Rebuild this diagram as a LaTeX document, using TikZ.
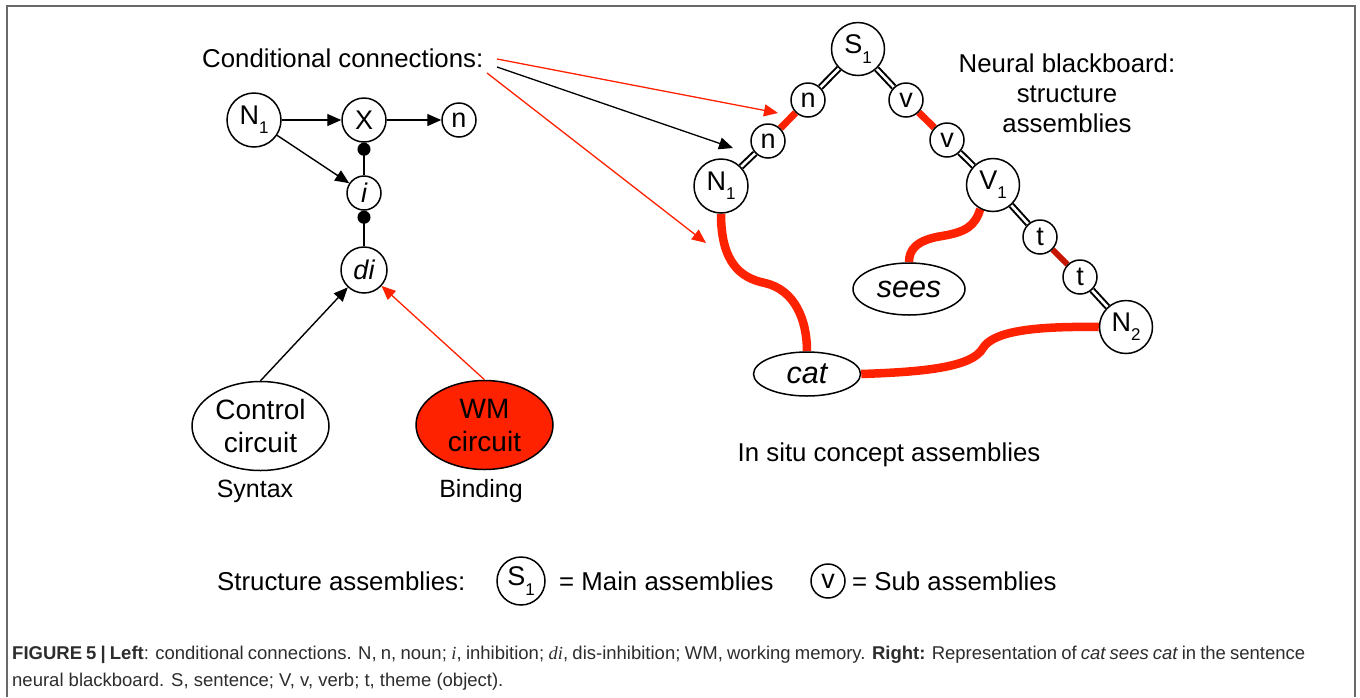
\documentclass[tikz,border=0pt]{standalone}
\usepackage{fontspec}
\setmainfont{Liberation Sans}
\newfontfamily\capfont{Liberation Sans}
\newfontfamily\capserif{Liberation Serif}
\usetikzlibrary{arrows.meta,shapes.geometric}

\definecolor{hotred}{RGB}{255,34,0}
\definecolor{deepred}{RGB}{198,22,0}
\definecolor{framegray}{RGB}{105,105,105}
\definecolor{captext}{RGB}{45,45,45}

\newcommand\lowsub[1]{\raisebox{-0.34em}{\fontsize{17}{17}\selectfont #1}}

\pgfdeclarelayer{links}
\pgfsetlayers{links,main}

\tikzset{
  lbl/.style={font=\fontsize{25.8}{30}\selectfont, inner sep=0pt},
  asm/.style={circle, draw, line width=1.5pt, fill=white, inner sep=0pt,
              font=\fontsize{27}{30}\selectfont},
  mainasm/.style={asm, minimum size=53pt},
  subasm/.style={asm, minimum size=34pt},
  concept/.style={ellipse, draw, line width=1.5pt, fill=white, inner sep=0pt,
                  font=\fontsize{30.5}{33}\selectfont\itshape},
  circuit/.style={ellipse, draw, line width=1.5pt, inner sep=0pt,
                  minimum width=137pt, minimum height=89pt, align=center,
                  font=\fontsize{28}{33}\selectfont},
  conn/.style={line width=1.4pt, -{Triangle[length=14pt,width=12pt]}},
  redconn/.style={conn, draw=hotred, line width=1.3pt},
  inh/.style={line width=1.4pt, -{Circle[length=13pt]}},
  bond/.style={double, line width=2pt, double distance=2.6pt},
  link/.style={hotred, line width=7pt},
  tie/.style={hotred, line width=8.5pt},
  capline/.style={font=\capfont\fontsize{18.5}{22}\selectfont, text=captext,
                  inner sep=0pt, anchor=base west},
}

\begin{document}
\begin{tikzpicture}[x=1pt, y=-1pt]
\useasboundingbox (0,0) rectangle (1360,697);
\begin{pgfonlayer}{links}
  \fill[white] (0,0) rectangle (1360,697);
\end{pgfonlayer}

% frame, open at the bottom
\draw[framegray, line width=1.5pt] (7,697) -- (7,6) -- (1355,6) -- (1355,697);

% ---------- left: conditional connection ----------
\node[lbl, anchor=base west] (cc) at (202,67) {Conditional connections:};
\node[asm, minimum size=54pt] (N1L) at (254,120) {N\lowsub{1}};
\node[asm, minimum size=44pt] (XL) at (364,120) {X};
\node[subasm] (nL) at (459,120) {n};
\node[subasm] (iL) at (364,193) {\itshape i};
\node[asm, minimum size=46pt] (diL) at (364,270) {\itshape di};
\node[circuit] (ctrl) at (260.5,426) {Control\\circuit};
\node[circuit, fill=hotred] (wm) at (484.5,425) {WM\\circuit};
\node[font=\fontsize{25}{30}\selectfont, inner sep=0pt, anchor=base] (syn) at (255,497) {Syntax};
\node[font=\fontsize{25}{30}\selectfont, inner sep=0pt, anchor=base] (bind) at (481,497) {Binding};

\draw[conn] (N1L) -- (XL);
\draw[conn] (XL) -- (nL);
\draw[conn] (N1L) -- (iL);
\draw[inh] (iL) -- (XL);
\draw[inh] (diL) -- (iL);
\draw[conn] (ctrl.north) -- (diL);
\draw[redconn] (wm.north) -- (diL);

% ---------- right: neural blackboard ----------
\node[mainasm] (S1) at (858,49) {S\lowsub{1}};
\node[subasm] (nU) at (808,100) {n};
\node[subasm] (nD) at (768,141) {n};
\node[asm, minimum size=54pt] (N1R) at (721,186) {N\lowsub{1}};
\node[subasm] (vU) at (906,100) {v};
\node[subasm] (vD) at (947,140) {v};
\node[mainasm] (V1) at (993,185) {V\lowsub{1}};
\node[subasm] (t1) at (1040,237) {t};
\node[subasm] (t2) at (1080,277) {t};
\node[mainasm] (N2) at (1126,327) {N\lowsub{2}};
\node[concept, minimum width=112pt, minimum height=52pt] (sees) at (909,289) {sees};
\node[concept, minimum width=107pt, minimum height=44pt] (cat) at (807,374) {cat};

\node[lbl, anchor=base] (nb1) at (1067,72) {Neural blackboard:};
\node[lbl, anchor=base] (nb2) at (1067,102) {structure};
\node[lbl, anchor=base] (nb3) at (1067,132) {assemblies};
\node[lbl, anchor=base] (insitu) at (889,461) {In situ concept assemblies};

\begin{pgfonlayer}{links}
  \draw[bond] (S1) -- (nU);
  \draw[bond] (nD) -- (N1R);
  \draw[bond] (S1) -- (vU);
  \draw[bond] (vD) -- (V1);
  \draw[bond] (V1) -- (t1);
  \draw[bond] (t2) -- (N2);
  \draw[link] (nU) -- (nD);
  \draw[link] (vU) -- (vD);
  \draw[link, deepred, line width=6pt] (t1) -- (t2);
  % bindings to the concept assemblies
  \draw[tie] (N1R.south) .. controls (721,262) and (740,278) .. (765,283)
                         .. controls (795,290) and (807,320) .. (cat.north);
  \draw[tie] (V1.-118) .. controls (975,226) and (966,232) .. (942,236)
                       .. controls (916,240) and (909,250) .. (sees.north);
  \draw[tie] (cat.east) .. controls (920,372) and (972,368) .. (983,348)
                        .. controls (993,332) and (1030,326) .. (N2.west);
\end{pgfonlayer}

% conditional connection pointers
\coordinate (ccA) at (497,59);
\coordinate (ccB) at (497,67);
\coordinate (ccC) at (487,73);
\coordinate (tipA) at (778,113);
\coordinate (tipB) at (733,148);
\coordinate (tipC) at (706,243);
\draw[redconn] (ccA) -- (tipA);
\draw[conn, line width=1.3pt] (ccB) -- (tipB);
\draw[redconn] (ccC) -- (tipC);

% ---------- legend ----------
\node[lbl, anchor=base west] (legtxt) at (217,590) {Structure assemblies:};
\node[asm, minimum size=48pt] (legS) at (521,581) {S\lowsub{1}};
\node[lbl, anchor=base west] (legmain) at (559,590) {= Main assemblies};
\node[subasm] (legv) at (828,581) {v};
\node[lbl, anchor=base west] (legsub) at (852,590) {= Sub assemblies};

% ---------- caption ----------
\node[capline] (cap1) at (12,659) {\makebox[1293pt][s]{{\bfseries FIGURE 5 | Left}: conditional connections. N, n, noun; {\capserif\itshape i}, inhibition; {\capserif\itshape di}, dis-inhibition; WM, working memory. {\bfseries Right:} Representation of {\itshape cat sees cat} in the sentence}};
\node[capline] (cap2) at (12,686) {neural blackboard. S, sentence; V, v, verb; t, theme (object).};
\end{tikzpicture}
\end{document}
